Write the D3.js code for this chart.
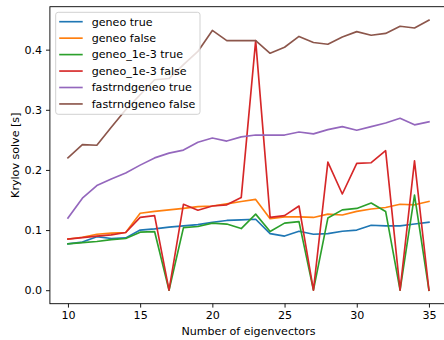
<!DOCTYPE html>
<html>
<head>
<meta charset="utf-8">
<script src="https://cdn.jsdelivr.net/npm/d3@7"></script>
<style>
  body { margin: 0; background: #fff; }
  svg { display: block; font-family: "DejaVu Sans", sans-serif; }
</style>
</head>
<body>
<div id="chart"></div>
<script>
// number of eigenvectors (x)
const nev = d3.range(10, 36);

const seriesNames = ["geneo true", "geneo false", "geneo_1e-3 true", "geneo_1e-3 false", "fastrndgeneo true", "fastrndgeneo false"];
const seriesColors = ["#1f77b4", "#ff7f0e", "#2ca02c", "#d62728", "#9467bd", "#8c564b"];

const geneoTrue = [0.077, 0.080, 0.089, 0.086, 0.087, 0.100, 0.102, 0.105, 0.107, 0.109, 0.113, 0.116, 0.117, 0.118, 0.094, 0.090, 0.098, 0.093, 0.094, 0.098, 0.100, 0.108, 0.107, 0.107, 0.110, 0.113];
const geneoFalse = [0.085, 0.088, 0.093, 0.095, 0.096, 0.128, 0.131, 0.1335, 0.136, 0.139, 0.140, 0.1435, 0.1475, 0.151, 0.119, 0.122, 0.122, 0.121, 0.1265, 0.125, 0.131, 0.135, 0.1375, 0.143, 0.142, 0.1475];
const geneo1e3True = [0.077, 0.079, 0.081, 0.084, 0.086, 0.0965, 0.0975, 0.0, 0.104, 0.106, 0.1115, 0.110, 0.1025, 0.1265, 0.0975, 0.1115, 0.114, 0.0, 0.120, 0.1336, 0.136, 0.145, 0.131, 0.0, 0.158, 0.0];
const geneo1e3False = [0.085, 0.0875, 0.090, 0.092, 0.096, 0.121, 0.124, 0.0, 0.143, 0.133, 0.140, 0.142, 0.154, 0.415, 0.121, 0.124, 0.140, 0.0, 0.213, 0.160, 0.211, 0.212, 0.232, 0.0, 0.215, 0.0];
const fastTrue = [0.120, 0.153, 0.174, 0.185, 0.195, 0.208, 0.220, 0.228, 0.233, 0.246, 0.253, 0.248, 0.255, 0.258, 0.258, 0.258, 0.263, 0.260, 0.267, 0.272, 0.266, 0.272, 0.278, 0.286, 0.275, 0.280];
const fastFalse = [0.220, 0.242, 0.241, 0.271, 0.300, 0.325, 0.350, 0.352, 0.375, 0.397, 0.432, 0.415, 0.415, 0.415, 0.394, 0.404, 0.422, 0.412, 0.409, 0.421, 0.430, 0.424, 0.427, 0.439, 0.436, 0.449];

const xTicks = [10, 15, 20, 25, 30, 35];
const yTicks = [0.0, 0.1, 0.2, 0.3, 0.4];

const allSeries = [geneoTrue, geneoFalse, geneo1e3True, geneo1e3False, fastTrue, fastFalse];

const width = 444, height = 340;
const margin = {left: 49.9, top: 6.7, right: -3, bottom: 36.3};
const fs = "11.1px";

const svg = d3.select("#chart").append("svg")
  .attr("width", width)
  .attr("height", height);

// matplotlib-like 5% margins around the data
const xMin = d3.min(nev), xMax = d3.max(nev);
const xPad = (xMax - xMin) * 0.05;
const yMin = d3.min(allSeries, s => d3.min(s)), yMax = d3.max(allSeries, s => d3.max(s));
const yPad = (yMax - yMin) * 0.05;

const x = d3.scaleLinear()
  .domain([xMin - xPad, xMax + xPad])
  .range([margin.left, width - margin.right]);
const y = d3.scaleLinear()
  .domain([yMin - yPad, yMax + yPad])
  .range([height - margin.bottom, margin.top]);

// lines
const line = d3.line()
  .x((d, i) => x(nev[i]))
  .y(d => y(d));

allSeries.forEach((s, k) => {
  svg.append("path")
    .datum(s)
    .attr("fill", "none")
    .attr("stroke", seriesColors[k])
    .attr("stroke-width", 1.65)
    .attr("stroke-linejoin", "round")
    .attr("stroke-linecap", "square")
    .attr("d", line);
});

// axes
const xAxis = svg.append("g")
  .attr("transform", "translate(0," + (height - margin.bottom) + ")")
  .call(d3.axisBottom(x).tickValues(xTicks).tickSize(3.9).tickPadding(3.9).tickSizeOuter(0));
const yAxis = svg.append("g")
  .attr("transform", "translate(" + margin.left + ",0)")
  .call(d3.axisLeft(y).tickValues(yTicks).tickFormat(d3.format(".1f")).tickSize(3.9).tickPadding(3.9).tickSizeOuter(0));

[xAxis, yAxis].forEach(g => {
  g.select(".domain").remove();
  g.selectAll(".tick line").attr("stroke", "#000").attr("stroke-width", 0.9);
  g.selectAll(".tick text").attr("fill", "#000").style("font-size", fs).style("font-family", "DejaVu Sans");
});

// frame
svg.append("rect")
  .attr("x", margin.left)
  .attr("y", margin.top)
  .attr("width", width - margin.right - margin.left)
  .attr("height", height - margin.bottom - margin.top)
  .attr("fill", "none")
  .attr("stroke", "#000")
  .attr("stroke-width", 0.9);

// axis labels
svg.append("text")
  .attr("x", (margin.left + width - margin.right) / 2)
  .attr("y", 334.5)
  .attr("text-anchor", "middle")
  .style("font-size", fs)
  .text("Number of eigenvectors");

svg.append("text")
  .attr("transform", "translate(18.5," + ((margin.top + height - margin.bottom) / 2) + ") rotate(-90)")
  .attr("text-anchor", "middle")
  .style("font-size", fs)
  .text("Krylov solve [s]");

// legend
const legend = svg.append("g").attr("transform", "translate(55.7,12.3)");
legend.append("rect")
  .attr("width", 144.3)
  .attr("height", 102)
  .attr("rx", 2.5)
  .attr("fill", "#fff")
  .attr("fill-opacity", 0.8)
  .attr("stroke", "#ccc")
  .attr("stroke-width", 0.9);

seriesNames.forEach((name, k) => {
  const row = legend.append("g").attr("transform", "translate(0," + (9.4 + k * 16.45) + ")");
  row.append("line")
    .attr("x1", 3.5).attr("x2", 27)
    .attr("stroke", seriesColors[k])
    .attr("stroke-width", 1.65);
  row.append("text")
    .attr("x", 36)
    .attr("dy", "0.35em")
    .style("font-size", fs)
    .text(name);
});
</script>
</body>
</html>
